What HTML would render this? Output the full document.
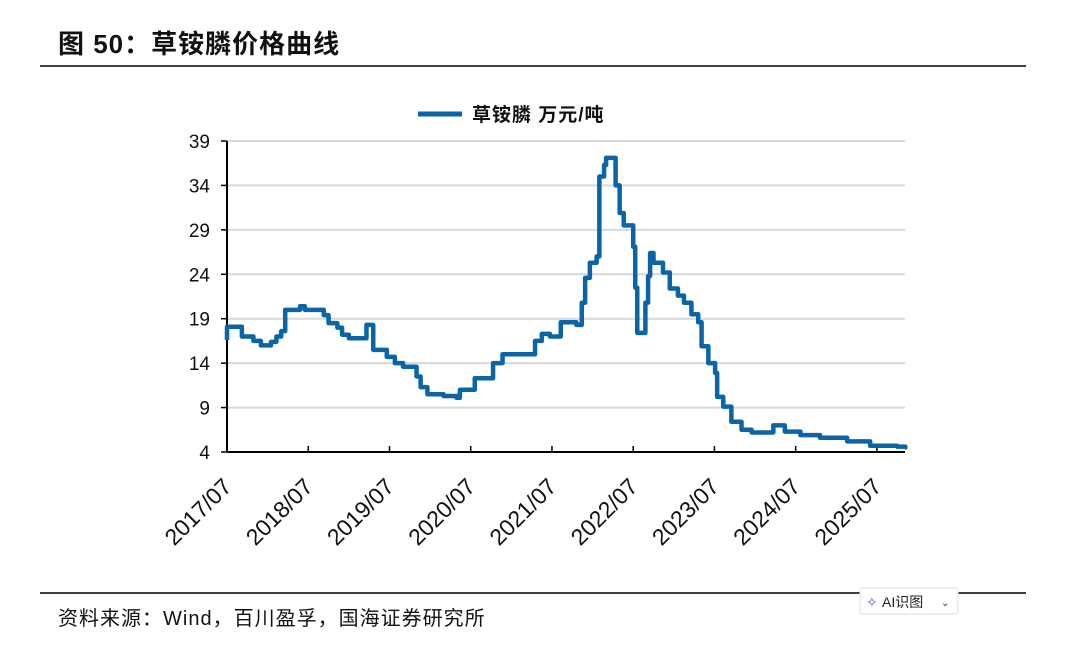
<!DOCTYPE html>
<html><head><meta charset="utf-8"><style>
body{margin:0;background:#fff;width:1080px;height:657px;overflow:hidden;font-family:"Liberation Sans","Noto Sans CJK SC",sans-serif;}
</style></head><body>
<svg width="1080" height="657" viewBox="0 0 1080 657" xmlns="http://www.w3.org/2000/svg">
<text x="58" y="53" font-size="26" font-weight="bold" fill="#111" letter-spacing="1" font-family="Liberation Sans, Noto Sans CJK SC, sans-serif">图 50：草铵膦价格曲线</text>
<line x1="40" y1="66" x2="1026" y2="66" stroke="#000" stroke-width="1.5"/>
<g>
<line x1="418" y1="114" x2="462" y2="114" stroke="#0b64a5" stroke-width="5"/>
<text x="472" y="121" font-size="19" font-weight="bold" fill="#111" letter-spacing="1" font-family="Liberation Sans, Noto Sans CJK SC, sans-serif">草铵膦 万元/吨</text>
</g>
<g id="grid"></g>
<g id="axes"></g>
<path id="line" fill="none" stroke="#0b64a5" stroke-width="4.5" stroke-linejoin="round"/>
<line x1="40" y1="593" x2="1026" y2="593" stroke="#000" stroke-width="1.5"/>
<text x="58" y="625" font-size="20" fill="#111" letter-spacing="1" font-family="Liberation Sans, Noto Sans CJK SC, sans-serif">资料来源：Wind，百川盈孚，国海证券研究所</text>
<g>
<rect x="860" y="588" width="98" height="26" rx="3" fill="#fff" stroke="#ddd"/>
<text x="866" y="607" font-size="14" fill="#7b4fd6">✧</text>
<text x="882" y="607" font-size="14" fill="#222" font-family="Liberation Sans, Noto Sans CJK SC, sans-serif">AI识图</text>
<text x="941" y="606" font-size="10" fill="#333">⌄</text>
</g>
</svg>
<script>
const yTicks=[4,9,14,19,24,29,34,39];
const xTickLabels=["2017/07","2018/07","2019/07","2020/07","2021/07","2022/07","2023/07","2024/07","2025/07"];
const months=[0,2.2,3.9,5,6.5,7.3,8,8.6,10.8,11.5,13.7,14.3,15,16.3,17,18,20,20.6,21.6,23.6,24.8,26,28,28.6,29.6,32,33.9,34.4,36.6,39.3,40,40.7,44.6,45.5,46.5,47.7,48.4,49.3,51.6,52.4,52.9,53.6,54.6,55,55.7,56,57.4,58,58.6,59.6,60,60.3,60.6,61.3,61.8,62.2,62.5,63,64.4,65.4,66.6,67.5,68.6,69.6,70.1,71.1,72.1,72.4,73.3,74.5,76,77.5,80.7,82.4,84.7,87.6,91.6,95,99,100.2];
const prices=[18.1,17.0,16.5,16.0,16.4,17.0,17.6,20.0,20.4,20.0,20.0,19.4,18.5,18.0,17.2,16.8,16.8,18.3,15.5,14.7,14.0,13.6,12.5,11.3,10.5,10.3,10.1,11.0,12.3,14.0,14.0,15.0,15.0,16.5,17.3,17.0,17.0,18.6,18.3,20.8,23.6,25.3,26.0,35.0,36.3,37.1,34.0,30.9,29.5,29.5,27.1,22.5,17.4,17.4,20.8,23.8,26.4,25.3,24.2,22.4,21.6,20.8,19.5,18.6,15.9,14.0,12.9,10.2,9.1,7.4,6.5,6.2,7.0,6.3,5.9,5.6,5.2,4.7,4.6,4.5];
const X0=227,X1=905,Y0=452,Y1=141,PXM=6.77;
const xs=m=>X0+m*PXM;
const ys=v=>Y0-(v-4)/(39-4)*(Y0-Y1);
const NS="http://www.w3.org/2000/svg";
const grid=document.getElementById('grid'),axes=document.getElementById('axes');
function mk(t,a,p){const e=document.createElementNS(NS,t);for(const k in a)e.setAttribute(k,a[k]);p.appendChild(e);return e;}
yTicks.forEach(v=>{
 if(v>4){const g=mk('line',{x1:X0,x2:X1,y1:ys(v),y2:ys(v),stroke:'#d9d9d9','stroke-width':2},grid);
 
 }
 const t=mk('line',{x1:X0-6,x2:X0,y1:ys(v),y2:ys(v),stroke:'#000','stroke-width':1.5},axes);
 
 
 const l=mk('text',{x:X0-17,y:ys(v)+7,'text-anchor':'end','font-size':19,fill:'#111'},axes);
 l.textContent=v;
 
 
});
const ya=mk('line',{x1:X0,x2:X0,y1:Y1,y2:Y0,stroke:'#000','stroke-width':2},axes);


const xa=mk('line',{x1:X0,x2:X1,y1:Y0,y2:Y0,stroke:'#000','stroke-width':2},axes);


xTickLabels.forEach((s,i)=>{
 const x=xs(i*12);
 const t=mk('line',{x1:x,x2:x,y1:Y0-6,y2:Y0,stroke:'#000','stroke-width':1.5},axes);
 
 
 const l=mk('text',{x:x+6,y:Y0+36,'text-anchor':'end','font-size':23,fill:'#111',transform:`rotate(-45 ${x+6} ${Y0+36})`},axes);
 l.textContent=s;
 
 
});
let d=`M${xs(months[0])},${ys(16.6)} V${ys(prices[0])}`;
for(let i=1;i<months.length;i++){d+=` H${xs(months[i])} V${ys(prices[i])}`;}
d+=` H${X1}`;
document.getElementById('line').setAttribute('d',d);
</script>
</body></html>
